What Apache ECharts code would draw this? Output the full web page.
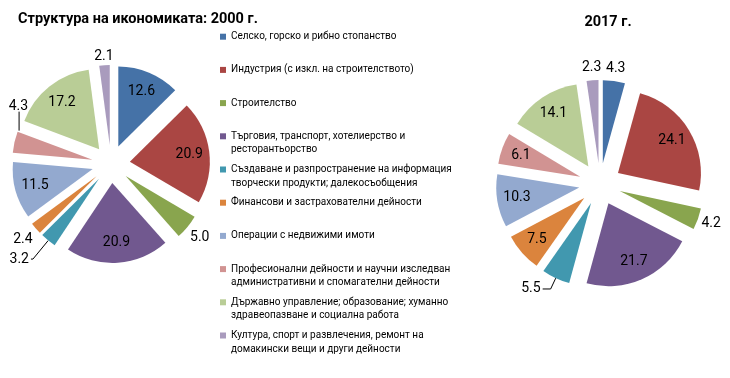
<!DOCTYPE html>
<html><head><meta charset="utf-8">
<script src="https://cdn.jsdelivr.net/npm/echarts@6/dist/echarts.min.js"></script>
<style>html,body{margin:0;padding:0;background:#fff}#c{width:730px;height:378px}</style>
</head><body><div id="c"></div>
<script>
// ---- data ----
const categories = [
  'Селско, горско и рибно стопанство',
  'Индустрия (с изкл. на строителството)',
  'Строителство',
  'Търговия, транспорт, хотелиерство и\nресторантьорство',
  'Създаване и разпространение на информация и\nтворчески продукти; далекосъобщения',
  'Финансови и застрахователни дейности',
  'Операции с недвижими имоти',
  'Професионални дейности и научни изследвания;\nадминистративни и спомагателни дейности',
  'Държавно управление; образование; хуманно\nздравеопазване и социална работа',
  'Култура, спорт и развлечения, ремонт на\nдомакински вещи и други дейности'
];
const values2000 = [12.6, 20.9, 5.0, 20.9, 3.2, 2.4, 11.5, 4.3, 17.2, 2.1];
const values2017 = [4.3, 24.1, 4.2, 21.7, 5.5, 7.5, 10.3, 6.1, 14.1, 2.3];
const titles = ['Структура на икономиката: 2000 г.', '2017 г.'];

// ---- styles ----
const colors = ['#4572A7','#AA4643','#89A54E','#71588F','#4198AF','#DB843D','#93A9CF','#D19392','#B9CD96','#A99BBD'];
const NUM_FONT = 'Roboto';
const LEGEND_FONT_SIZE = 10;
const LEGEND_TEXT_WIDTH = 221;
// outside-label settings per slice index (others are inside)
const out2000 = {2:{len:16}, 4:{len:24, len2:2, line:true}, 5:{len:17}, 7:{line:true, above:true, pad:[0,0,28.5,7.8]}, 9:{len:9}};
const out2017 = {0:{len:13}, 2:{len:14}, 4:{len:12, len2:8, line:true}, 9:{len:12.5}};

function fmt(p){ return Number(p.value).toFixed(1); }

const chart = echarts.init(document.getElementById('c'), null, {renderer:'canvas'});

// vertical leader line rising from a slice's upper corner (library layout, pre-offset coords)
function aboveLayout(p){
  const data = chart.getModel().getSeriesByIndex(p.seriesIndex).getData();
  const L = data.getItemLayout(p.dataIndex);
  const c1 = [L.cx + L.r * Math.cos(L.startAngle), L.cy + L.r * Math.sin(L.startAngle)];
  const c2 = [L.cx + L.r * Math.cos(L.endAngle), L.cy + L.r * Math.sin(L.endAngle)];
  const c = c1[1] < c2[1] ? c1 : c2;
  const lx = c[0] + 1.5;
  return {
    align:'center', verticalAlign:'bottom',
    labelLinePoints: [[lx, c[1] - 1], [lx, c[1] - 20]]
  };
}

function makePie(values, center, R, off, innerFrac, spec){
  const main = {
    type:'pie', center:center, radius:[0,R], startAngle:90, clockwise:true,
    selectedMode:'multiple', selectedOffset:off, avoidLabelOverlap:false,
    silent:true, animation:false,
    itemStyle:{borderWidth:0},
    label:{fontFamily:NUM_FONT, fontSize:14, color:'#000', formatter:fmt, distanceToLabelLine:0},
    labelLine:{lineStyle:{color:'#000', width:1}, smooth:false},
    labelLayout: function(p){
      const s = spec[p.dataIndex];
      if (!s) return {};
      if (s.above) return aboveLayout(p);
      if (!s.line) return {align:'center'};
      return {};
    },
    data: values.map((v,i)=>{
      const s = spec[i];
      return {
        name:categories[i], value:v, selected:true,
        itemStyle:{color:colors[i]},
        label: s ? {show:true, position:'outside', distanceToLabelLine: (s.line && !s.above) ? 2 : 0, padding: s.pad || 0} : {show:false},
        labelLine: s ? {show:!!s.line, length:s.len||0, length2:s.len2||0} : {show:false}
      };
    })
  };
  const overlay = {
    type:'pie', center:center, radius:[R*innerFrac,R], startAngle:90, clockwise:true,
    selectedMode:'multiple', selectedOffset:off, avoidLabelOverlap:false,
    silent:true, animation:false,
    itemStyle:{color:'rgba(0,0,0,0)', borderWidth:0},
    label:{show:true, position:'inside', fontFamily:NUM_FONT, fontSize:14, color:'#000', formatter:fmt},
    labelLine:{show:false},
    data: values.map((v,i)=>({
      name:categories[i], value:v, selected:true,
      itemStyle:{color:'rgba(0,0,0,0)'},
      label:{show: !spec[i]}
    }))
  };
  return [main, overlay];
}

// legend text: cut each line to the legend's width (the reference clips long lines)
const mctx = document.createElement('canvas').getContext('2d');
mctx.font = LEGEND_FONT_SIZE + 'px Roboto';
function fitLine(s){
  while (s.length && mctx.measureText(s).width > LEGEND_TEXT_WIDTH) s = s.slice(0, -1);
  return s;
}
function legendText(n){
  const lines = n.split('\n').map(fitLine);
  if (lines.length < 2) lines.push(' ');
  return lines.join('\n');
}

const legendIcon = 'path://M0,0M0,3.8h6v6h-6zM6,27.2';
chart.setOption({
  backgroundColor:'#fff',
  animation:false,
  title:[
    {text:titles[0], left:18, top:12, padding:0, textStyle:{fontFamily:'Roboto', fontSize:14.5, fontWeight:'bold', color:'#000'}},
    {text:titles[1], left:608, top:15, padding:0, textAlign:'center', textStyle:{fontFamily:'Roboto', fontSize:14.5, fontWeight:'bold', color:'#000'}}
  ],
  legend:{
    orient:'vertical', left:220, top:29.9, padding:0, itemGap:6,
    itemWidth:6, itemHeight:27.2, icon:legendIcon,
    selectedMode:false,
    data:categories,
    formatter: legendText,
    textStyle:{fontFamily:'Roboto', fontSize:LEGEND_FONT_SIZE, color:'#000', lineHeight:13.6}
  },
  series:[
    ...makePie(values2000, [111,164], 80, 19, 0.42, out2000),
    ...makePie(values2017, [600,184], 83, 21, 0.45, out2017)
  ]
});
</script>
</body></html>
